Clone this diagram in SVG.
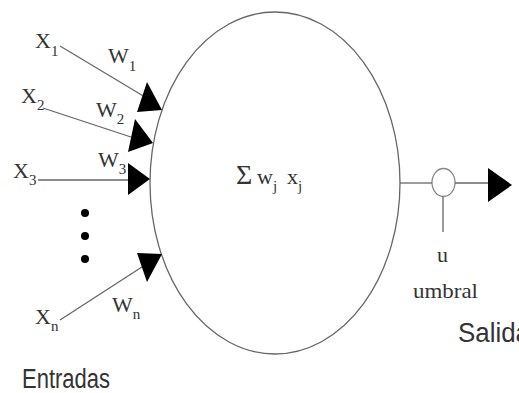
<svg xmlns="http://www.w3.org/2000/svg" width="519" height="393" viewBox="0 0 519 393">
<style>
.t{font-family:"Liberation Serif","Times New Roman",serif;font-size:22px;fill:#333}
.s{font-size:15px}
.g{font-family:"Liberation Sans",Arial,sans-serif;font-size:27px;fill:#333}
.ln{stroke:#666;stroke-width:1.3;fill:none}
.ah{fill:#000}
</style>
<rect width="519" height="393" fill="#fff"/>
<g id="neuron">
<ellipse cx="275" cy="183" rx="125" ry="171" fill="none" stroke="#666" stroke-width="1.3"/>
<text class="t" x="236" y="184"><tspan style="font-size:28px">Σ</tspan><tspan x="257">w</tspan><tspan class="s" dy="7">j</tspan><tspan x="287" dy="-7">x</tspan><tspan class="s" dy="7">j</tspan></text>
</g>
<g id="threshold">
<ellipse cx="443.5" cy="182.5" rx="11.5" ry="14" fill="#fff" stroke="#888" stroke-width="1.3"/>
<text class="t" x="437" y="262">u</text>
<text class="t" x="413" y="298" textLength="65" lengthAdjust="spacingAndGlyphs">umbral</text>
</g>
<g id="inputs">
<text class="t" x="35" y="48">X<tspan class="s" dy="8">1</tspan></text>
<text class="t" x="21" y="103">X<tspan class="s" dy="7">2</tspan></text>
<text class="t" x="13" y="178">X<tspan class="s" dy="7">3</tspan></text>
<text class="t" x="35" y="324">X<tspan class="s" dy="7">n</tspan></text>
<circle cx="85" cy="213" r="4" fill="#000"/>
<circle cx="85" cy="236" r="4" fill="#000"/>
<circle cx="85" cy="259" r="4" fill="#000"/>
<text class="g" x="22" y="388" textLength="88" lengthAdjust="spacingAndGlyphs">Entradas</text>
</g>
<g id="weights">
<text class="t" x="108" y="63">W<tspan class="s" dy="8">1</tspan></text>
<text class="t" x="96" y="117">W<tspan class="s" dy="7">2</tspan></text>
<text class="t" x="98" y="167">W<tspan class="s" dy="7">3</tspan></text>
<text class="t" x="112" y="312">W<tspan class="s" dy="7">n</tspan></text>
</g>
<g id="output">
<text class="g" x="458" y="342" textLength="72" lengthAdjust="spacingAndGlyphs">Salida</text>
</g>
<g id="connectors">
<line class="ln" x1="60" y1="46" x2="150" y2="100"/>
<polygon class="ah" points="147,82 137,112 162,110"/>
<line class="ln" x1="43" y1="108" x2="140" y2="140"/>
<polygon class="ah" points="135,119 128,152 153,143"/>
<line class="ln" x1="38" y1="180" x2="135" y2="180"/>
<polygon class="ah" points="128,163 128,195 150,179"/>
<line class="ln" x1="60" y1="320" x2="145" y2="265"/>
<polygon class="ah" points="137,253 162,254 147,282"/>
<line class="ln" x1="400" y1="183" x2="432" y2="183"/>
<line class="ln" x1="455" y1="183" x2="490" y2="183"/>
<polygon class="ah" points="488,168 488,202 512,185"/>
<line class="ln" x1="443" y1="196.5" x2="443" y2="232"/>
</g>
</svg>
